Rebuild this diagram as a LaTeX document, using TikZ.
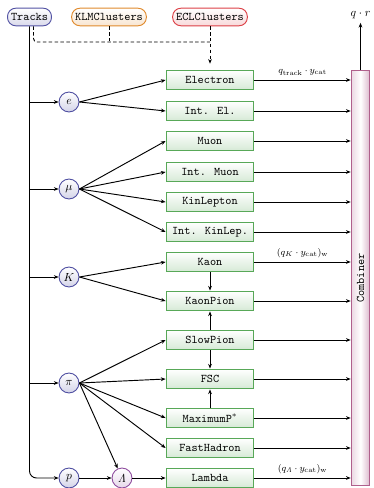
\documentclass[tikz,border=0pt]{standalone}
\usetikzlibrary{arrows.meta,positioning}
\definecolor{trackblue}{HTML}{5252A3}
\definecolor{klmorange}{HTML}{E08A2C}
\definecolor{eclred}{HTML}{DC4046}
\definecolor{catgreen}{HTML}{58A858}
\definecolor{combpink}{HTML}{B0608C}
\definecolor{lampurple}{HTML}{9050A0}
\begin{document}
\begin{tikzpicture}[x=0.03cm,y=-0.03cm,>={Stealth[length=4pt,width=3.2pt]},
    input/.style={draw,thick,rounded corners=7pt,font=\ttfamily,minimum height=15pt,inner xsep=3pt},
    tagger/.style={draw=catgreen,thick,top color=white,bottom color=catgreen!25,font=\ttfamily,minimum width=75pt,minimum height=17pt,inner sep=0pt},
    particle/.style={circle,draw=trackblue,thick,top color=white,bottom color=trackblue!25,minimum size=17pt,inner sep=0pt},
    conn/.style={thick,->}]
  \useasboundingbox (0,0) rectangle (374,488);
  % inputs
  \node[input,draw=trackblue,top color=white,bottom color=trackblue!22] (tracks) at (29.5,17) {Tracks};
  \node[input,draw=klmorange,top color=white,bottom color=klmorange!22] (klm) at (109,17) {KLMClusters};
  \node[input,draw=eclred,top color=white,bottom color=eclred!20] (ecl) at (210,17) {ECLClusters};
  \coordinate (dashjoin) at (210,42);

  % particles
  \node[particle] (e) at (69,102) {$e$};
  \node[particle] (mu) at (69,189) {$\mu$};
  \node[particle] (K) at (69,277) {$K$};
  \node[particle] (pi) at (69,383) {$\pi$};
  \node[particle] (p) at (69,478) {$p$};
  \node[particle,draw=lampurple,bottom color=lampurple!22] (lam) at (122,478) {$\mathit{\Lambda}$};

  % categories
  \node[tagger] (ele) at (210,80) {Electron};
  \node[tagger] (intel) at (210,111) {Int. El.};
  \node[tagger] (muon) at (210,141) {Muon};
  \node[tagger] (intmuon) at (210,172) {Int. Muon};
  \node[tagger] (kinlep) at (210,202) {KinLepton};
  \node[tagger] (intkinlep) at (210,232) {Int. KinLep.};
  \node[tagger] (kaon) at (210,262) {Kaon};
  \node[tagger] (kaonpion) at (210,301) {KaonPion};
  \node[tagger] (slowpion) at (210,340) {SlowPion};
  \node[tagger] (fsc) at (210,379) {FSC};
  \node[tagger] (maxp) at (210,418) {MaximumP$^*$};
  \node[tagger] (fasthad) at (210,448) {FastHadron};
  \node[tagger] (lambda) at (210,478) {Lambda};

  % combiner
  \node[draw=combpink,thick,left color=combpink!25,right color=combpink!45,middle color=white,minimum width=16pt,minimum height=355pt,inner sep=0pt] (comb) at (360.5,278) {};
  \node[rotate=90,font=\ttfamily] (combtext) at (comb) {Combiner};
  \node (qr) at (360.5,15) {$q\cdot r$};
  \draw[conn] (comb.north) -- (qr.south);

  % trunk and dashed inputs
  \draw[thick,->,rounded corners=6pt] (tracks.south) |- (p.west);
  \foreach \n in {e,mu,K,pi}
    \draw[conn] (tracks.south |- \n.west) -- (\n.west);
  \draw[thick,densely dashed,rounded corners=3pt] ([xshift=3.4pt]tracks.south) |- (dashjoin);
  \draw[thick,densely dashed] (klm.south) -- (klm.south |- dashjoin);
  \draw[thick,densely dashed,->,shorten >=5pt] (ecl.south) -- (ele.north);

  % particles to categories
  \foreach \n in {ele,intel}
    \draw[conn] (e.east) -- (\n.west);
  \foreach \n in {muon,intmuon,kinlep,intkinlep}
    \draw[conn] (mu.east) -- (\n.west);
  \foreach \n in {kaon,kaonpion}
    \draw[conn] (K.east) -- (\n.west);
  \foreach \n in {slowpion,fsc,maxp,fasthad}
    \draw[conn] (pi.east) -- (\n.west);
  \draw[conn] (pi.east) -- (lam);
  \draw[conn] (p) -- (lam);
  \draw[conn] (lam) -- (lambda);

  % between categories
  \draw[conn] (kaon) -- (kaonpion);
  \draw[conn] (slowpion) -- (kaonpion);
  \draw[conn] (slowpion) -- (fsc);
  \draw[conn] (maxp) -- (fsc);

  % categories to combiner
  \foreach \n in {intel,muon,intmuon,kinlep,intkinlep,kaonpion,slowpion,fsc,maxp,fasthad}
    \draw[conn] (\n.east) -- (\n.east -| comb.west);
  \draw[conn] (ele.east) -- (ele.east -| comb.west)
    node[midway,above,font=\footnotesize] {$q_{\mathrm{track}}\cdot y_{\mathrm{cat}}$};
  \draw[conn] (kaon.east) -- (kaon.east -| comb.west)
    node[midway,above,font=\footnotesize] {$(q_{K}\cdot y_{\mathrm{cat}})_{\mathrm{w}}$};
  \draw[conn] (lambda.east) -- (lambda.east -| comb.west)
    node[midway,above,font=\footnotesize] {$(q_{\mathit{\Lambda}}\cdot y_{\mathrm{cat}})_{\mathrm{w}}$};
\end{tikzpicture}
\end{document}
